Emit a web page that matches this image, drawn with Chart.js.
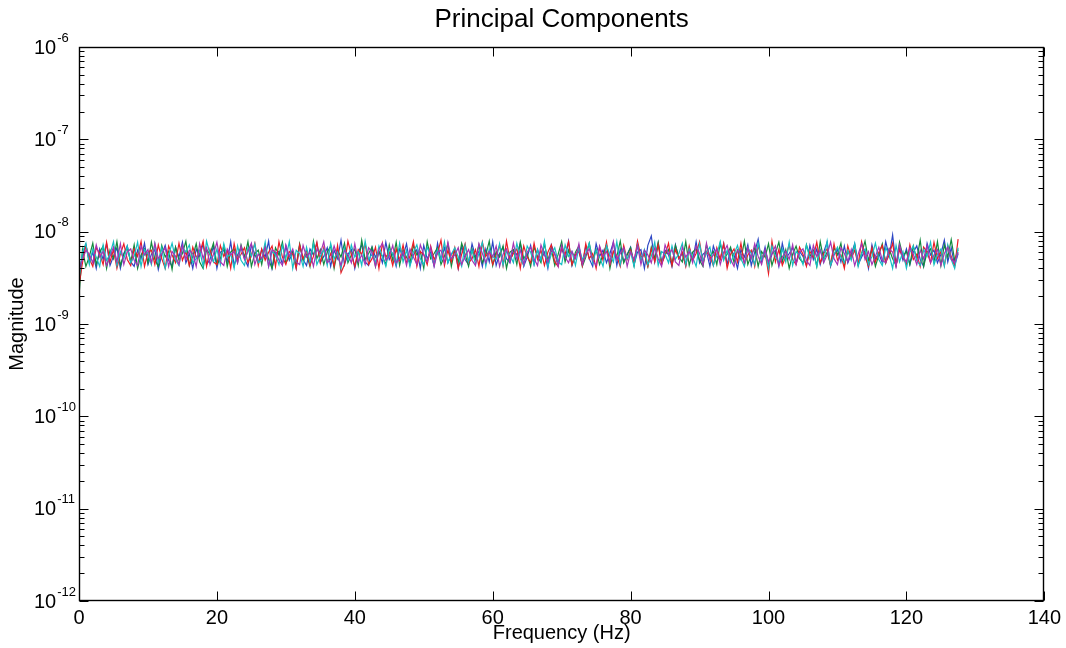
<!DOCTYPE html>
<html>
<head>
<meta charset="utf-8">
<script src="https://cdn.jsdelivr.net/npm/chart.js@4.4.1/dist/chart.umd.min.js"></script>
<style>
html,body{margin:0;padding:0;background:#fff;}
#wrap{width:1066px;height:648px;position:relative;}
</style>
</head>
<body>
<div id="wrap"><canvas id="c" width="1066" height="648"></canvas></div>
<script>
const TITLE = 'Principal Components';
const X_LABEL = 'Frequency (Hz)';
const Y_LABEL = 'Magnitude';
const X_TICKS = [0, 20, 40, 60, 80, 100, 120, 140];
const Y_DECADES = [-12, -11, -10, -9, -8, -7, -6];
const UNIT = 1e-9; // series values below are in units of 1e-9

const freq = [
0,0.5,1,1.5,2,2.5,3,3.5,4,4.5,5,5.5,6,6.5,7,7.5,
8,8.5,9,9.5,10,10.5,11,11.5,12,12.5,13,13.5,14,14.5,15,15.5,
16,16.5,17,17.5,18,18.5,19,19.5,20,20.5,21,21.5,22,22.5,23,23.5,
24,24.5,25,25.5,26,26.5,27,27.5,28,28.5,29,29.5,30,30.5,31,31.5,
32,32.5,33,33.5,34,34.5,35,35.5,36,36.5,37,37.5,38,38.5,39,39.5,
40,40.5,41,41.5,42,42.5,43,43.5,44,44.5,45,45.5,46,46.5,47,47.5,
48,48.5,49,49.5,50,50.5,51,51.5,52,52.5,53,53.5,54,54.5,55,55.5,
56,56.5,57,57.5,58,58.5,59,59.5,60,60.5,61,61.5,62,62.5,63,63.5,
64,64.5,65,65.5,66,66.5,67,67.5,68,68.5,69,69.5,70,70.5,71,71.5,
72,72.5,73,73.5,74,74.5,75,75.5,76,76.5,77,77.5,78,78.5,79,79.5,
80,80.5,81,81.5,82,82.5,83,83.5,84,84.5,85,85.5,86,86.5,87,87.5,
88,88.5,89,89.5,90,90.5,91,91.5,92,92.5,93,93.5,94,94.5,95,95.5,
96,96.5,97,97.5,98,98.5,99,99.5,100,100.5,101,101.5,102,102.5,103,103.5,
104,104.5,105,105.5,106,106.5,107,107.5,108,108.5,109,109.5,110,110.5,111,111.5,
112,112.5,113,113.5,114,114.5,115,115.5,116,116.5,117,117.5,118,118.5,119,119.5,
120,120.5,121,121.5,122,122.5,123,123.5,124,124.5,125,125.5,126,126.5,127,127.5
];

const pc1 = [
3.4,5.6,7.2,4.6,6.0,4.0,6.5,5.0,7.4,4.3,5.4,6.7,4.0,5.8,7.0,4.7,
4.2,6.3,5.1,7.5,4.4,5.7,6.4,3.9,5.6,7.1,4.9,4.2,6.8,5.3,7.7,4.6,
5.8,4.0,6.5,5.4,7.4,4.4,5.0,7.0,4.0,6.0,6.3,4.7,7.8,4.3,5.6,6.7,
5.1,4.2,7.2,5.7,4.6,6.4,5.3,7.9,4.0,5.8,6.1,4.4,7.0,4.9,6.0,4.0,
7.1,5.0,4.3,6.5,5.6,7.5,4.6,5.4,6.7,4.2,6.3,5.1,8.1,4.4,5.7,6.4,
4.0,6.0,7.2,4.7,4.3,6.8,5.3,6.1,4.6,7.7,5.0,5.8,4.2,6.5,5.4,7.4,
4.4,5.6,6.4,4.0,7.1,5.1,6.0,4.3,7.5,4.9,6.7,4.6,5.7,6.3,4.0,7.0,
5.0,4.4,7.4,5.4,6.1,4.2,6.5,4.7,7.8,4.3,5.8,6.8,5.1,4.6,6.3,5.6,
7.5,4.2,5.3,7.1,4.4,6.4,4.9,6.0,4.0,7.2,5.7,4.6,6.7,5.0,7.9,4.3,
5.6,6.1,4.4,7.0,5.1,4.2,7.4,5.4,6.3,4.6,5.8,7.7,4.3,6.5,4.7,5.7,
6.8,4.4,6.0,6.4,4.0,7.1,9.0,4.7,7.5,4.6,6.3,5.6,4.2,7.2,5.1,5.8,
4.3,6.7,4.9,7.8,4.6,5.7,6.1,4.2,7.0,5.4,5.0,7.4,4.4,6.5,5.6,4.0,
6.4,5.3,7.2,4.3,6.0,8.3,4.7,6.8,4.4,5.7,6.3,4.2,7.5,5.1,5.8,6.7,
4.6,6.1,5.4,4.3,7.1,5.0,6.5,4.4,6.0,7.7,4.2,5.6,6.4,4.7,7.0,4.6,
5.7,7.4,4.4,5.3,6.3,4.0,7.2,5.1,5.8,4.6,7.8,5.4,9.2,4.3,6.7,4.9,
6.5,4.4,6.0,7.0,5.0,4.2,7.5,5.6,6.3,4.6,5.7,8.1,4.7,6.7,4.3,5.8
];

const pc2 = [
2.0,6.4,4.2,5.4,7.5,4.4,6.0,7.0,4.0,6.3,5.1,7.8,4.3,5.7,6.7,4.7,
7.2,4.0,5.6,6.5,4.6,7.7,5.0,4.2,7.1,5.3,6.1,3.9,6.8,4.9,5.8,7.9,
4.3,5.4,7.4,4.7,4.0,6.4,5.7,7.5,4.4,5.1,7.0,4.2,6.0,6.5,4.6,7.2,
5.3,7.8,4.2,5.8,6.3,4.4,7.1,5.0,4.0,6.7,5.6,7.7,4.6,5.4,6.1,4.3,
7.4,4.9,5.7,4.2,7.9,5.1,6.4,4.4,6.0,7.0,4.0,6.3,5.3,7.5,4.6,5.6,
6.5,4.3,8.1,5.0,5.8,6.8,4.2,6.1,5.4,4.4,7.2,4.9,7.7,4.3,6.4,5.3,
4.6,7.1,5.6,6.1,4.0,7.8,5.1,5.8,6.7,4.4,5.4,7.4,4.2,6.3,4.7,7.5,
5.7,4.2,6.5,5.0,7.2,4.6,5.6,7.9,4.3,6.1,5.3,7.0,4.0,6.0,6.4,4.4,
7.7,5.1,5.8,4.2,6.8,5.4,4.6,7.4,4.9,6.5,4.3,5.7,7.8,4.7,6.3,4.4,
6.0,7.0,4.2,5.3,7.5,5.0,6.4,4.4,5.7,7.2,4.0,6.1,5.4,7.9,4.6,5.6,
6.7,4.3,7.4,4.9,5.8,4.2,6.8,5.1,7.7,4.6,5.6,6.4,4.4,7.1,5.3,4.7,
7.8,4.3,6.0,6.5,4.9,4.2,7.2,5.4,6.1,4.4,7.5,5.1,5.7,6.8,4.6,6.3,
5.0,7.9,4.4,5.6,6.7,4.2,6.1,5.3,7.4,4.3,5.8,7.7,4.7,6.4,4.0,5.7,
7.0,5.1,4.6,7.2,5.4,6.3,4.2,7.8,5.0,6.0,4.4,6.7,5.6,7.5,4.3,6.1,
5.3,7.1,4.4,5.8,7.9,4.9,6.4,4.2,5.6,7.4,4.6,6.5,5.1,4.3,7.7,5.4,
6.1,4.4,7.0,5.0,8.1,4.2,6.0,6.5,4.7,7.8,4.3,7.2,5.3,8.2,4.9,6.4
];

const pc3 = [
2.6,4.6,7.1,5.1,4.2,6.7,5.8,4.4,7.7,4.7,6.4,4.0,5.7,7.4,5.0,4.3,
6.5,5.4,7.8,4.2,6.0,6.3,4.4,7.2,5.1,4.0,7.0,5.6,4.6,7.5,4.9,6.1,
4.3,6.8,5.3,5.8,7.9,4.2,6.4,4.7,4.4,7.1,5.4,6.3,4.0,7.4,5.0,5.7,
6.7,4.6,5.6,7.5,4.3,6.5,4.9,6.0,7.0,4.2,7.8,5.3,4.4,6.1,5.7,4.0,
7.2,5.1,6.3,4.3,5.4,7.7,4.6,6.7,4.7,5.8,4.2,7.1,3.6,4.4,7.9,5.6,
4.2,6.4,5.7,7.4,4.4,5.1,6.8,4.0,7.5,5.3,6.0,4.3,6.5,4.9,7.2,4.6,
5.4,7.8,4.2,6.1,5.6,4.4,7.0,5.0,5.8,8.1,4.3,6.3,4.7,6.7,4.0,5.7,
7.4,4.6,5.1,6.4,4.2,7.7,5.4,6.1,4.4,5.6,7.1,4.3,7.9,4.9,5.8,6.5,
4.0,7.0,5.3,4.6,7.5,5.0,6.3,4.3,6.0,7.2,4.7,4.2,6.7,5.7,7.8,4.4,
5.6,6.4,4.3,7.4,5.1,5.8,4.0,6.8,4.9,7.7,4.4,6.1,5.4,4.2,7.1,5.0,
6.3,4.6,7.9,5.3,5.7,4.2,6.5,4.7,7.2,4.4,5.6,7.5,4.3,6.4,5.1,6.0,
4.2,7.0,4.9,5.8,7.8,4.6,6.1,5.4,4.3,6.7,5.0,7.4,4.0,5.7,6.5,4.7,
7.5,4.4,5.6,6.3,4.2,7.1,5.1,6.0,3.5,7.9,4.7,6.4,4.3,5.4,7.2,5.0,
4.4,6.8,5.7,4.2,6.1,5.3,7.7,4.6,5.8,6.5,4.3,7.4,4.9,5.6,4.0,7.0,
5.1,6.3,4.4,7.8,5.4,4.2,6.7,4.7,6.0,7.1,4.6,5.6,7.5,4.3,6.4,5.3,
4.4,7.2,5.0,5.7,4.2,6.8,6.0,4.6,7.7,5.1,6.1,4.3,7.0,5.4,4.2,8.3
];

const pc4 = [
3.0,6.0,7.5,4.4,6.5,5.3,4.2,7.2,4.9,5.7,7.8,4.3,6.1,5.1,7.0,4.6,
5.4,7.7,4.2,6.4,5.8,4.4,7.4,4.7,6.7,4.0,5.6,7.5,5.0,4.3,6.8,6.0,
7.2,4.6,5.1,6.3,4.2,7.9,5.7,4.7,6.5,4.4,7.4,5.3,5.8,4.0,7.0,4.9,
4.3,6.7,5.4,7.4,4.6,5.0,7.7,4.2,6.1,5.6,4.4,7.1,5.1,7.8,4.0,6.3,
5.8,4.2,6.8,4.7,7.4,4.4,5.4,6.4,4.3,7.5,5.1,6.0,4.0,6.7,4.9,7.2,
5.3,6.1,4.3,7.9,5.0,5.7,4.6,7.0,5.4,4.2,6.5,5.8,4.4,7.5,4.7,6.3,
4.2,6.0,7.2,5.1,4.4,6.8,5.6,4.3,6.4,4.9,7.8,4.6,5.7,6.7,5.3,4.2,
7.1,4.7,6.3,4.4,5.8,7.7,4.2,6.5,5.4,5.0,7.4,4.3,6.1,5.6,4.6,7.5,
5.1,4.3,7.0,6.0,4.4,6.4,4.9,7.9,4.2,5.7,6.7,4.7,4.4,7.2,5.4,6.1,
4.3,6.8,5.0,5.8,7.5,4.6,6.3,5.3,4.2,7.1,5.6,4.7,7.8,4.4,6.5,5.1,
6.0,4.2,7.2,4.9,6.4,4.4,5.4,7.7,4.3,6.1,5.7,4.6,7.0,5.0,5.8,7.5,
4.4,6.5,5.3,4.2,7.4,4.7,6.0,6.8,4.3,5.6,7.8,4.9,6.3,4.6,5.7,7.1,
5.1,4.2,6.7,5.8,4.4,7.5,5.0,6.1,4.0,7.0,5.4,4.6,6.5,4.7,7.7,4.3,
6.1,5.6,4.4,7.2,5.1,6.0,4.2,6.4,4.7,7.9,4.3,5.7,6.8,5.3,4.6,6.3,
4.9,7.4,4.2,5.8,6.5,4.4,5.4,7.5,5.0,4.3,6.7,5.6,4.0,7.1,4.7,6.1,
4.0,6.0,7.0,4.9,4.3,6.4,5.4,7.7,4.4,5.7,6.5,4.2,7.2,5.0,4.0,6.7
];

const pc5 = [
3.8,5.0,6.3,5.7,4.6,7.2,5.3,6.1,4.3,5.4,6.8,4.7,7.4,4.4,6.0,6.5,
4.9,4.3,7.0,5.6,6.4,4.6,7.5,5.1,5.8,6.7,4.2,6.1,5.4,4.4,7.1,5.0,
6.3,5.8,4.2,7.4,5.1,6.7,4.4,5.7,7.7,4.7,4.3,6.5,5.6,6.1,4.6,7.0,
5.0,6.1,7.5,4.4,5.7,5.1,6.8,4.2,6.4,6.0,4.9,4.3,7.2,5.4,6.5,4.7,
4.4,7.1,5.3,6.0,4.2,6.5,5.8,7.8,4.6,5.0,7.0,5.4,4.3,6.3,5.7,4.6,
7.4,4.7,5.6,4.4,6.7,6.0,4.2,6.4,7.5,4.9,5.4,7.1,4.6,5.1,6.1,4.3,
6.5,5.3,4.4,7.2,5.7,4.7,6.8,4.2,6.0,6.3,4.6,7.7,5.1,5.6,6.7,4.4,
5.4,6.4,4.9,4.3,7.4,5.8,4.6,6.1,5.3,7.0,4.2,5.7,6.5,4.7,7.5,5.0,
6.3,4.4,6.0,6.8,5.1,4.3,7.2,5.6,4.7,6.4,5.8,4.2,7.1,5.3,4.6,6.1,
5.1,7.4,4.4,5.7,6.5,4.9,4.3,7.0,5.4,6.1,4.6,7.8,5.0,5.8,6.7,4.2,
6.0,5.0,7.1,4.4,6.3,5.6,4.6,6.7,5.1,4.2,7.2,5.7,6.4,4.7,4.3,6.8,
5.3,6.1,4.6,7.0,5.8,4.3,7.5,4.9,5.6,6.5,4.4,6.0,7.1,5.0,4.2,6.3,
5.7,4.6,6.7,5.1,7.4,5.4,4.4,6.4,4.7,5.8,7.0,4.3,5.3,6.1,5.0,7.2,
4.4,6.0,6.5,4.9,4.3,7.1,5.4,6.3,4.6,5.6,7.7,5.1,4.4,6.7,5.8,4.7,
6.4,4.3,5.7,7.4,5.0,6.1,4.4,5.4,6.8,4.9,4.6,6.5,6.0,4.2,7.2,5.3,
4.7,6.7,5.7,4.4,6.3,5.1,7.1,4.6,5.6,6.4,4.3,5.8,6.8,5.0,4.6,6.0
];

const SERIES = [pc1, pc2, pc3, pc4, pc5];
const COLORS = ['#2c46c4', '#138a3e', '#ec1c24', '#16bfc4', '#a534b4'];
const FONT = "'Liberation Sans', Arial, Helvetica, sans-serif";

const datasets = SERIES.map((s, i) => ({
  label: 'PC' + (i + 1),
  data: s.map((v, j) => ({ x: freq[j], y: v * UNIT })),
  borderColor: COLORS[i],
  backgroundColor: COLORS[i],
  borderWidth: 1.2,
  pointRadius: 0,
  tension: 0,
  fill: false,
  order: SERIES.length - 1 - i
}));

const frame = {
  id: 'frame',
  afterDatasetsDraw(chart) {
    const { ctx, chartArea: a, scales: { x, y } } = chart;
    ctx.save();
    ctx.strokeStyle = '#000';
    ctx.lineWidth = 1;
    const L = Math.round(a.left) + 0.5, R = Math.round(a.right) - 0.5;
    const T = Math.round(a.top) + 0.5, B = Math.round(a.bottom) - 0.5;
    ctx.beginPath();
    X_TICKS.forEach(v => {
      const px = Math.round(x.getPixelForValue(v)) + 0.5;
      ctx.moveTo(px, B); ctx.lineTo(px, B - 9);
      ctx.moveTo(px, T); ctx.lineTo(px, T + 9);
    });
    Y_DECADES.forEach(k => {
      const py = Math.round(y.getPixelForValue(Math.pow(10, k))) + 0.5;
      ctx.moveTo(L, py); ctx.lineTo(L + 9, py);
      ctx.moveTo(R, py); ctx.lineTo(R - 9, py);
      if (k < -6) {
        for (let m = 2; m <= 9; m++) {
          const pm = Math.round(y.getPixelForValue(m * Math.pow(10, k))) + 0.5;
          ctx.moveTo(L, pm); ctx.lineTo(L + 5, pm);
          ctx.moveTo(R, pm); ctx.lineTo(R - 5, pm);
        }
      }
    });
    ctx.stroke();
    ctx.lineWidth = 1.4;
    ctx.strokeRect(L, T, R - L, B - T);
    ctx.fillStyle = '#000';
    ctx.textAlign = 'left';
    ctx.textBaseline = 'middle';
    Y_DECADES.forEach(k => {
      const py = y.getPixelForValue(Math.pow(10, k));
      ctx.font = '20px ' + FONT;
      ctx.fillText('10', 34, py + 1);
      const w = ctx.measureText('10').width;
      ctx.font = '13px ' + FONT;
      ctx.fillText(String(k), 34 + w + 1, py - 9);
    });
    ctx.restore();
  }
};

new Chart(document.getElementById('c'), {
  type: 'line',
  data: { datasets },
  plugins: [frame],
  options: {
    responsive: false,
    animation: false,
    devicePixelRatio: 1,
    layout: { padding: { left: 0, right: 21, top: 0, bottom: 0 } },
    plugins: {
      legend: { display: false },
      tooltip: { enabled: false },
      title: {
        display: true,
        text: TITLE,
        fullSize: false,
        color: '#000',
        font: { family: FONT, size: 26, weight: 'normal', lineHeight: 1.2 },
        padding: { top: 4, bottom: 11.8 }
      }
    },
    scales: {
      x: {
        type: 'linear',
        min: 0,
        max: 140,
        afterBuildTicks(s) { s.ticks = X_TICKS.map(v => ({ value: v })); },
        afterFit(s) { s.height = 47; },
        grid: { display: false, drawTicks: false },
        border: { display: false },
        ticks: {
          color: '#000',
          font: { family: FONT, size: 20 },
          padding: 5,
          maxRotation: 0,
          autoSkip: false
        },
        title: {
          display: true,
          text: X_LABEL,
          color: '#000',
          font: { family: FONT, size: 20 },
          padding: { top: 0, bottom: 3 }
        }
      },
      y: {
        type: 'logarithmic',
        min: 1e-12,
        max: 1e-6,
        afterFit(s) { s.width = 79; },
        grid: { display: false, drawTicks: false },
        border: { display: false },
        ticks: { display: false },
        title: {
          display: true,
          text: Y_LABEL,
          color: '#000',
          font: { family: FONT, size: 20 },
          padding: { top: 5, bottom: 0 }
        }
      }
    }
  }
});
</script>
</body>
</html>
